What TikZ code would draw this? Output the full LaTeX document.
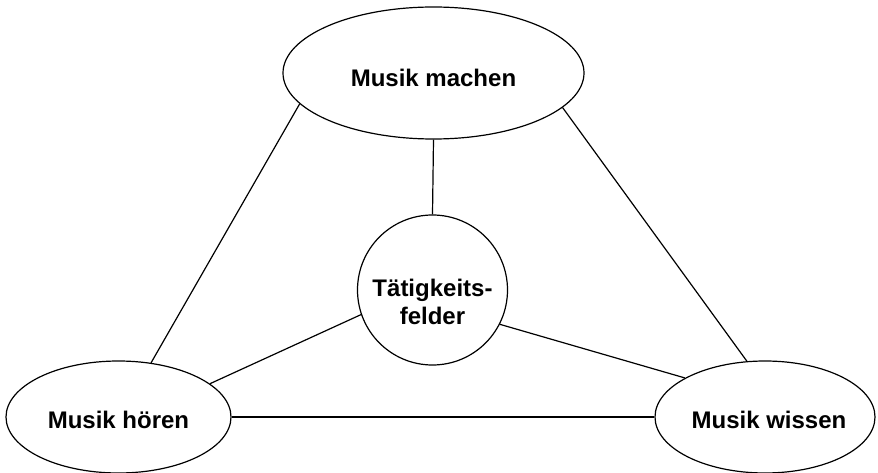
\documentclass[tikz,border=0pt]{standalone}
\usepackage{fontspec}
\setmainfont{Liberation Sans}
\usetikzlibrary{shapes.geometric}
\begin{document}
\begin{tikzpicture}[x=1pt,y=-1pt,
  lbl/.style={font=\fontsize{24}{28}\selectfont\bfseries, align=center, inner sep=0pt},
  oval/.style={draw, ellipse, line width=1.2pt, inner sep=0pt},
  hub/.style={draw, circle, line width=1.2pt, inner sep=0pt, minimum size=150pt},
  link/.style={line width=1.2pt}]
\useasboundingbox[fill=white] (0,0) rectangle (878,473);
\node[oval, minimum width=301pt, minimum height=132pt] (make) at (433.5,73) {};
\node[oval, minimum width=225pt, minimum height=112pt] (hear) at (118.5,417) {};
\node[oval, minimum width=220pt, minimum height=112pt] (know) at (765,417) {};
\node[hub] (core) at (432.5,290) {};
\node[lbl] (maketext) at ([yshift=-5pt]make.center) {Musik machen};
\node[lbl] (heartext) at ([yshift=-2.5pt]hear.center) {Musik hören};
\node[lbl] (knowtext) at ([yshift=-2.5pt,xshift=4pt]know.center) {Musik wissen};
\node[lbl] (coretext) at ([yshift=-12pt]core.center) {Tätigkeits-\\felder};
\draw[link] (make.193) -- (hear.59);
\draw[link] (make.345) -- (know.108);
\draw[link] (make.south) -- (core.north);
\draw[link] (core.199) -- (hear.20);
\draw[link] (core.333) -- (know.154);
\draw[link] (hear.east) -- (know.west);
\end{tikzpicture}
\end{document}
